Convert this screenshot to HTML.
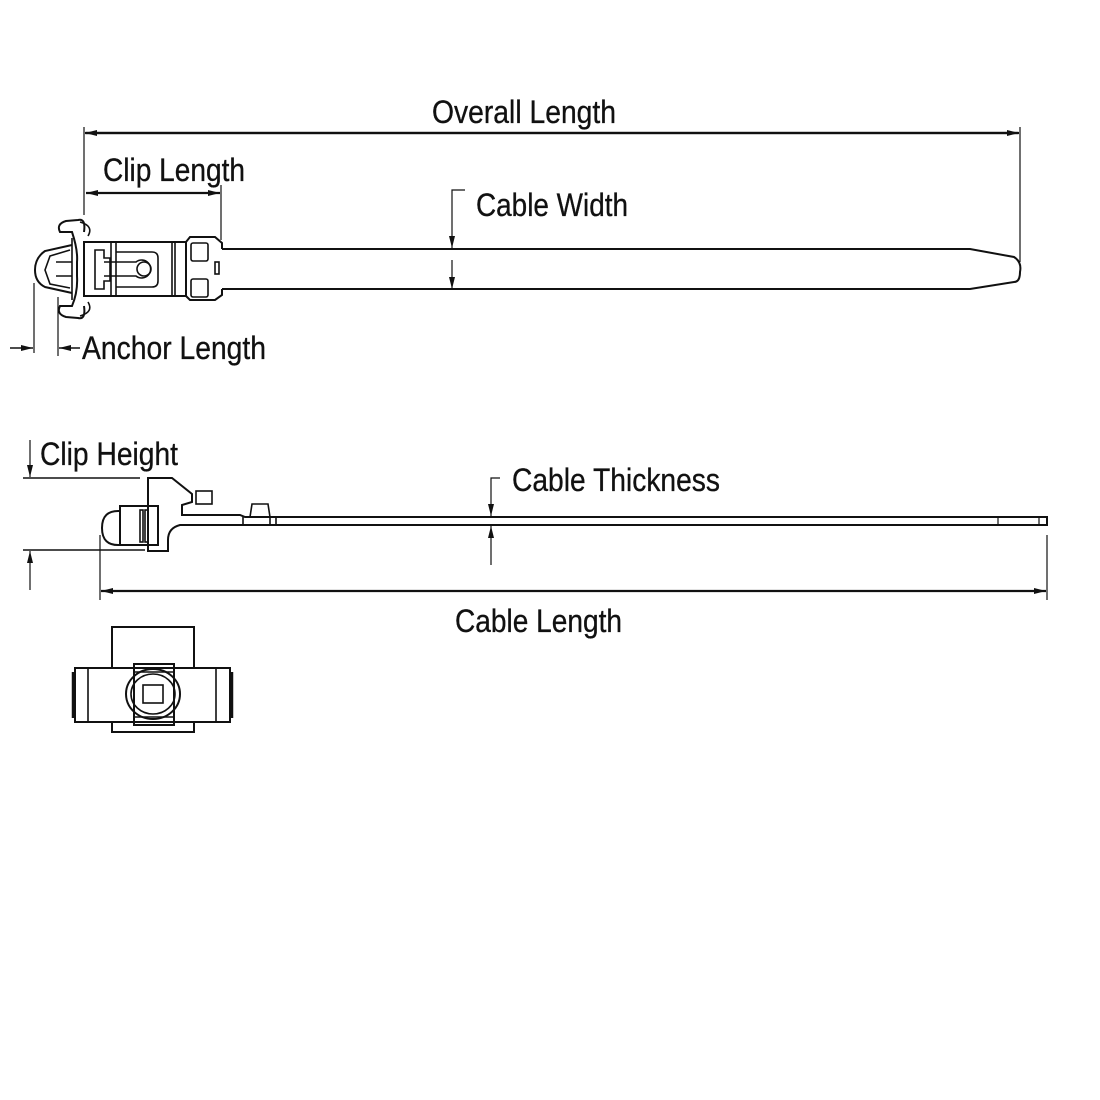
<!DOCTYPE html>
<html><head><meta charset="utf-8"><style>
html,body{margin:0;padding:0;background:#fff;}
svg{display:block;}
text{font-family:"Liberation Sans",sans-serif;font-size:32px;fill:#111;stroke:#111;stroke-width:0.3px;}
</style></head><body>
<svg width="1100" height="1100" viewBox="0 0 1100 1100" xmlns="http://www.w3.org/2000/svg">
<defs>
<marker id="a" markerWidth="12" markerHeight="8" refX="12" refY="4" orient="auto" markerUnits="userSpaceOnUse"><path d="M0,1 L12,4 L0,7 Z" fill="#111"/></marker>
</defs>
<g stroke="#111" fill="none" stroke-width="1.6">
<!-- Overall length -->
<line x1="84" y1="127" x2="84" y2="215" stroke-width="1.2"/>
<line x1="1020" y1="127" x2="1020" y2="262" stroke-width="1.2"/>
<line x1="86" y1="133" x2="1019" y2="133" stroke-width="2.2" marker-end="url(#a)"/>
<line x1="1018" y1="133" x2="85" y2="133" stroke-width="2.2" marker-end="url(#a)"/>
<!-- Clip length -->
<line x1="221" y1="185" x2="221" y2="240" stroke-width="1.2"/>
<line x1="150" y1="193" x2="220" y2="193" stroke-width="2.2" marker-end="url(#a)"/>
<line x1="150" y1="193" x2="86" y2="193" stroke-width="2.2" marker-end="url(#a)"/>
<!-- Cable width -->
<polyline points="465,190 452,190 452,248" stroke-width="1.2" marker-end="url(#a)"/>
<line x1="452" y1="260" x2="452" y2="289" stroke-width="1.2" marker-end="url(#a)"/>
<!-- strap top view -->
<path d="M222,249 L970,249 L1014,257 Q1022,262 1020,272 Q1020,282 1014,282 L970,289 L222,289" stroke-width="2"/>
<!-- clip body -->
<rect x="84" y="242" width="102" height="54" stroke-width="2"/>
<path d="M186,242 L190,237 L215,237 L222,243 L222,249 M222,289 L222,295 L215,300 L190,300 L186,296" stroke-width="2"/>
<rect x="191" y="243" width="17" height="18" rx="2"/>
<rect x="191" y="279" width="17" height="18" rx="2"/>
<rect x="215" y="262" width="4" height="12"/>
<line x1="172" y1="242" x2="172" y2="296"/><line x1="175" y1="242" x2="175" y2="296"/>
<line x1="111" y1="242" x2="111" y2="296"/><line x1="116" y1="242" x2="116" y2="296"/>
<path d="M95,250 L104,250 L104,258 L110,258 L110,281 L104,281 L104,289 L95,289 Z"/>
<path d="M104,262 L136,262 A9,9 0 1 1 136,276 L104,276"/>
<circle cx="144" cy="269" r="7"/>
<path d="M116,252 L152,252 Q158,252 158,258 L158,281 Q158,287 152,287 L116,287"/>
<!-- anchor -->
<path d="M84,232 Q86,218 78,220 L66,221 Q56,224 60,232 L72,232 Q78,250 77,262 L77,276 Q78,292 72,306 L60,306 Q56,314 66,317 L78,318 Q86,320 84,306" stroke-width="2"/>
<path d="M80,222 Q94,226 88,236 M80,316 Q94,312 88,302"/>
<path d="M72,245 L45,251 Q35,258 35,270 Q35,282 45,287 L72,293" stroke-width="2"/>
<path d="M70,250 L50,256 L45,270 L50,284 L70,288 M56,262 L72,262 M56,276 L72,276 M72,238 L72,300"/>
<!-- anchor length -->
<line x1="34" y1="283" x2="34" y2="353" stroke-width="1.2"/>
<line x1="58" y1="297" x2="58" y2="356" stroke-width="1.2"/>
<line x1="10" y1="348" x2="33" y2="348" stroke-width="1.4" marker-end="url(#a)"/>
<line x1="80" y1="348" x2="59" y2="348" stroke-width="1.4" marker-end="url(#a)"/>

<!-- side view: clip height -->
<line x1="23" y1="478" x2="140" y2="478" stroke-width="1.4"/>
<line x1="23" y1="550" x2="145" y2="550" stroke-width="1.4"/>
<line x1="30" y1="440" x2="30" y2="477" stroke-width="1.2" marker-end="url(#a)"/>
<line x1="30" y1="590" x2="30" y2="551" stroke-width="1.2" marker-end="url(#a)"/>
<!-- side body -->
<path d="M120,511 Q102,510 102,528 Q102,546 120,545" stroke-width="2"/>
<rect x="120" y="506" width="38" height="39" stroke-width="2"/>
<rect x="140" y="510" width="3" height="32"/><rect x="145" y="510" width="3" height="32"/>
<path d="M148,478 L172,478 L192,494 L192,502 L182,505 L182,515 L240,515 L245,517 L1047,517 L1047,525 L180,525 Q168,528 168,540 L168,551 L148,551 Z" stroke-width="2"/>
<rect x="196" y="491" width="16" height="13"/>
<path d="M250,517 L252,504 L268,504 L270,517"/>
<line x1="243" y1="517" x2="243" y2="525"/><line x1="270" y1="517" x2="270" y2="525"/><line x1="276" y1="517" x2="276" y2="525"/>
<line x1="998" y1="517" x2="998" y2="525" stroke-width="1.2"/><line x1="1039" y1="517" x2="1039" y2="525" stroke-width="1.2"/>
<!-- cable thickness -->
<polyline points="500,478 491,478 491,516" stroke-width="1.2" marker-end="url(#a)"/>
<line x1="491" y1="565" x2="491" y2="526" stroke-width="1.2" marker-end="url(#a)"/>
<!-- cable length -->
<line x1="100" y1="535" x2="100" y2="600" stroke-width="1.2"/>
<line x1="1047" y1="535" x2="1047" y2="600" stroke-width="1.2"/>
<line x1="560" y1="591" x2="1046" y2="591" stroke-width="2.2" marker-end="url(#a)"/>
<line x1="560" y1="591" x2="101" y2="591" stroke-width="2.2" marker-end="url(#a)"/>

<!-- bottom view -->
<path d="M112,668 L112,627 L194,627 L194,668" stroke-width="2"/>
<rect x="75" y="668" width="155" height="54" stroke-width="2"/>
<path d="M112,722 L112,732 L194,732 L194,722" stroke-width="2"/>
<line x1="88" y1="668" x2="88" y2="722"/><line x1="216" y1="668" x2="216" y2="722"/>
<line x1="73" y1="672" x2="73" y2="718" stroke-width="2.5"/><line x1="232" y1="672" x2="232" y2="718" stroke-width="2.5"/>
<rect x="134" y="664" width="40" height="61" stroke-width="2"/>
<ellipse cx="153" cy="694" rx="27" ry="25" stroke-width="2"/>
<ellipse cx="153" cy="694" rx="22" ry="20"/>
<rect x="143" y="685" width="20" height="18"/>
<line x1="134" y1="672" x2="174" y2="672"/><line x1="134" y1="717" x2="174" y2="717"/>
</g>
<text x="432" y="123" textLength="184" lengthAdjust="spacingAndGlyphs">Overall Length</text>
<text x="103" y="181" textLength="142" lengthAdjust="spacingAndGlyphs">Clip Length</text>
<text x="476" y="216" textLength="152" lengthAdjust="spacingAndGlyphs">Cable Width</text>
<text x="82" y="359" textLength="184" lengthAdjust="spacingAndGlyphs">Anchor Length</text>
<text x="40" y="465" textLength="138" lengthAdjust="spacingAndGlyphs">Clip Height</text>
<text x="512" y="491" textLength="208" lengthAdjust="spacingAndGlyphs">Cable Thickness</text>
<text x="455" y="632" textLength="167" lengthAdjust="spacingAndGlyphs">Cable Length</text>
</svg>
</body></html>
